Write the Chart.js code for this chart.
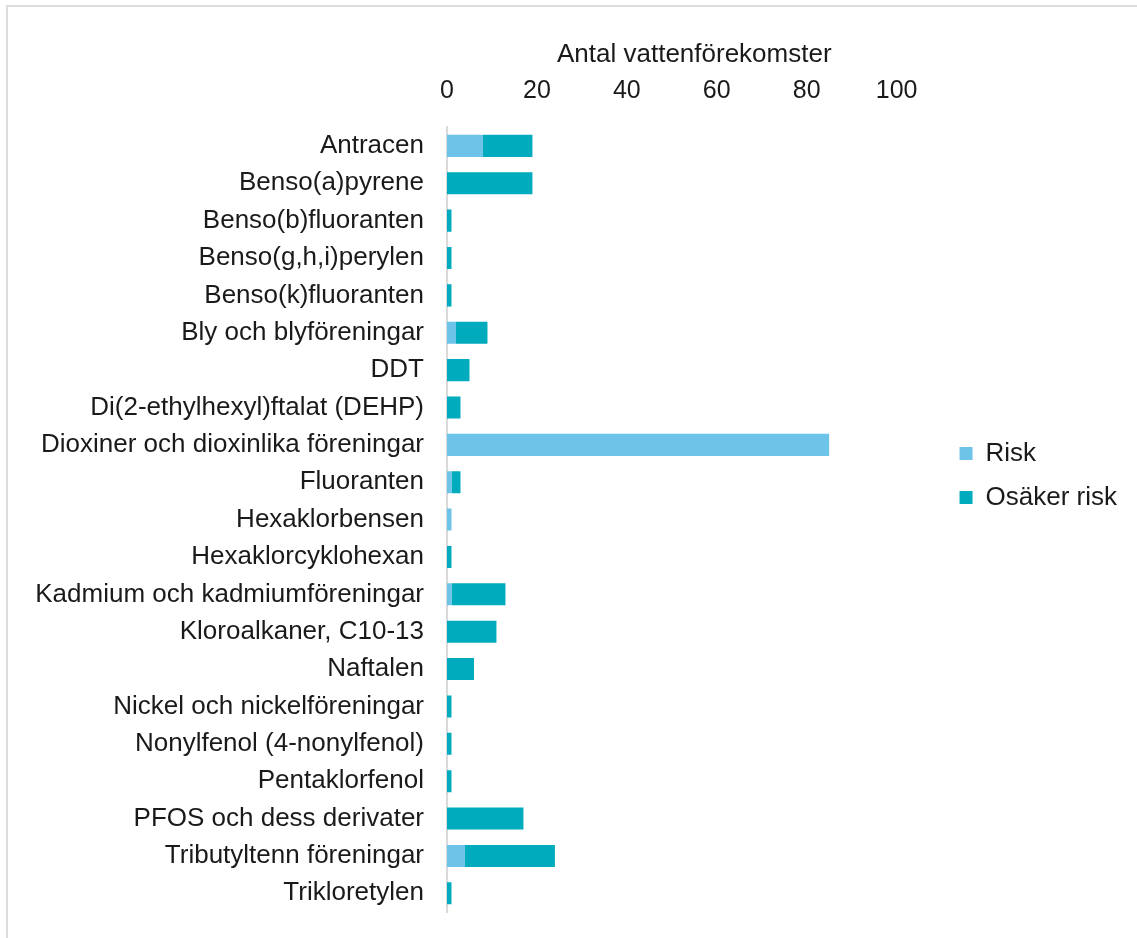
<!DOCTYPE html>
<html>
<head>
<meta charset="utf-8">
<script src="https://cdn.jsdelivr.net/npm/chart.js@4"></script>
<style>
  body { margin: 0; background: #fff; }
  .wrap { position: relative; width: 1137px; height: 938px; }
  .frame { position: absolute; left: 6px; top: 5px; right: 0; bottom: 0;
           border-top: 2px solid #DCDCDC; border-left: 2px solid #DCDCDC; }
  canvas { position: absolute; left: 0; top: 0; }
</style>
</head>
<body>
<div class="wrap">
  <div class="frame"></div>
  <canvas id="chart1" width="1137" height="938"></canvas>
</div>
<script>
// data
var categories = ['Antracen', 'Benso(a)pyrene', 'Benso(b)fluoranten', 'Benso(g,h,i)perylen',
  'Benso(k)fluoranten', 'Bly och blyföreningar', 'DDT', 'Di(2-ethylhexyl)ftalat (DEHP)',
  'Dioxiner och dioxinlika föreningar', 'Fluoranten', 'Hexaklorbensen', 'Hexaklorcyklohexan',
  'Kadmium och kadmiumföreningar', 'Kloroalkaner, C10-13', 'Naftalen',
  'Nickel och nickelföreningar', 'Nonylfenol (4-nonylfenol)', 'Pentaklorfenol',
  'PFOS och dess derivater', 'Tributyltenn föreningar', 'Trikloretylen'];
var risk   = [8, 0, 0, 0, 0, 2, 0, 0, 85, 1, 1, 0, 1, 0, 0, 0, 0, 0, 0, 4, 0];
var osaker = [11, 19, 1, 1, 1, 7, 5, 3, 0, 2, 0, 1, 12, 11, 6, 1, 1, 1, 17, 20, 1];
var xTicks = [0, 20, 40, 60, 80, 100];

var family = "'Liberation Sans', Arial, sans-serif";
var font = { family: family, size: 26 };
var tickFont = { family: family, size: 25 };
var textColor = '#1A1A1A';

//chart
var ctx = document.getElementById('chart1').getContext('2d');
var chart = new Chart(ctx, {
    type: 'bar',
    data: {
        labels: categories,
        datasets: [{
            label: 'Risk',
            data: risk,
            backgroundColor: '#6EC3E8'
        }, {
            label: 'Osäker risk',
            data: osaker,
            backgroundColor: '#00ABBD'
        }]
    },
    options: {
        indexAxis: 'y',
        responsive: false,
        animation: false,
        categoryPercentage: 0.59,
        barPercentage: 1,
        layout: {
            padding: { left: 0, right: 10, top: 39, bottom: 26 }
        },
        scales: {
            x: {
                position: 'top',
                stacked: true,
                min: 0,
                max: 110,   // extra room so the legend sits where it does in the original
                afterBuildTicks: function (scale) {
                    scale.ticks = xTicks.map(function (v) { return { value: v }; });
                },
                grid: { display: false, drawTicks: false },
                border: { display: false },
                ticks: { color: textColor, font: tickFont, padding: 21, maxRotation: 0 },
                title: {
                    display: true,
                    text: 'Antal vattenförekomster',
                    color: textColor,
                    font: font,
                    padding: { top: 0, bottom: -15 }
                }
            },
            y: {
                stacked: true,
                afterFit: function (scale) {
                    scale.width = 447;
                    scale.paddingTop = 0;
                    scale.paddingBottom = 0;
                },
                grid: { display: false, drawTicks: false },
                border: { display: true, color: '#D9D9D9', width: 2 },
                ticks: { color: textColor, font: font, padding: 23, autoSkip: false }
            }
        },
        plugins: {
            legend: {
                position: 'right',
                labels: {
                    color: textColor,
                    font: font,
                    boxWidth: 13,
                    boxHeight: 13,
                    padding: 18
                }
            },
            tooltip: { enabled: false }
        }
    }
});
</script>
</body>
</html>
